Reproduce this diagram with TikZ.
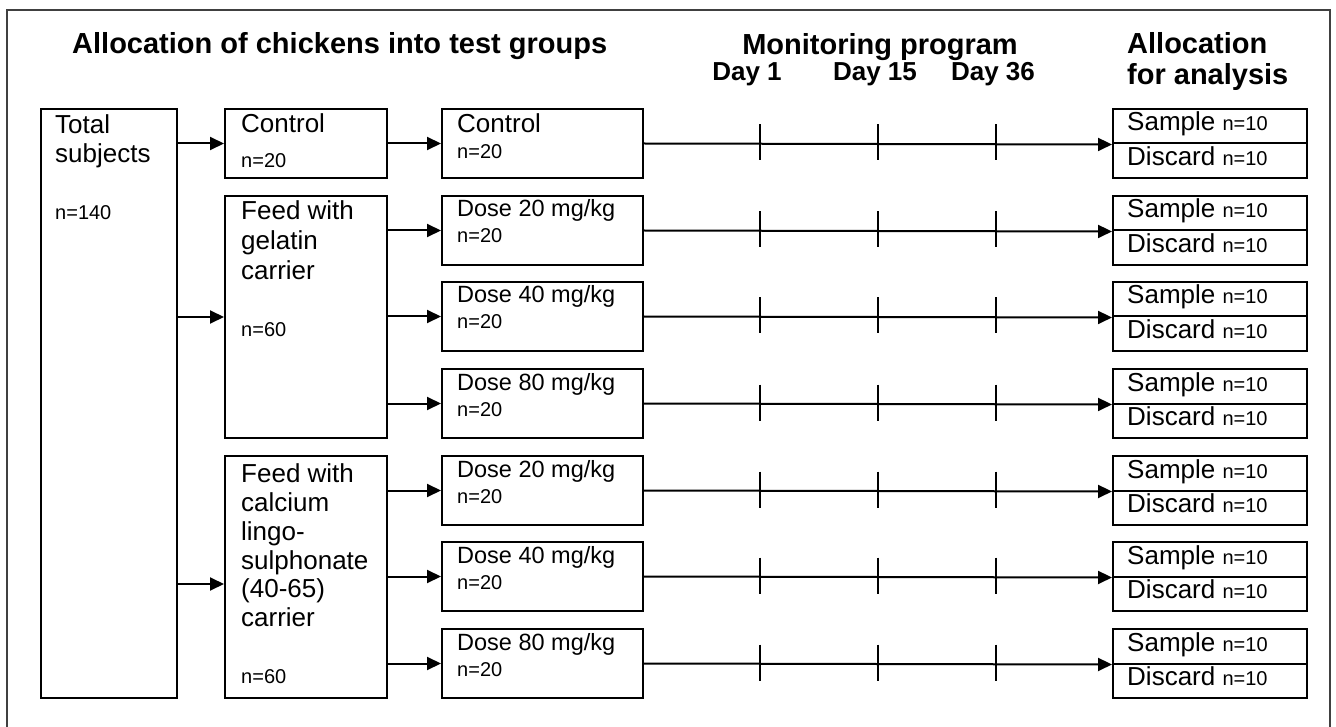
\documentclass[tikz,border=0pt]{standalone}
\usepackage{fontspec}
\setmainfont{Liberation Sans}
\usetikzlibrary{arrows.meta,calc}
\begin{document}
\begin{tikzpicture}[x=1pt,y=-1pt,
  box/.style={draw,line width=2pt,inner sep=0pt,anchor=north west},
  arr/.style={line width=2pt,-{Triangle[length=14pt,width=13pt]}},
  ln/.style={line width=2pt},
  txt/.style={anchor=base west,inner sep=0pt,font=\fontsize{26}{30}\selectfont},
  sm/.style={anchor=base west,inner sep=0pt,font=\fontsize{20}{24}\selectfont},
  ttl/.style={anchor=base west,inner sep=0pt,font=\fontsize{29}{33}\selectfont\bfseries},
  day/.style={anchor=base,inner sep=0pt,font=\fontsize{26}{30}\selectfont\bfseries},
]
\useasboundingbox (0,0) rectangle (1336,727);
\begin{scope}
  \clip (0,0) rectangle (1336,727);
  \draw[line width=1.5pt,black!75] (7,10) rectangle (1330,760);
\end{scope}

% titles
\node[ttl] (title1) at (72,54) {Allocation of chickens into test groups};
\node[ttl,anchor=base] (title2) at (880,55) {Monitoring program};
\node[day] (day1) at (747,81) {Day 1};
\node[day] (day15) at (875,81) {Day 15};
\node[day] (day36) at (993,81) {Day 36};
\node[ttl] (title3a) at (1127,54) {Allocation};
\node[ttl] (title3b) at (1127,85) {for analysis};

% column 1
\node[box,minimum width=136pt,minimum height=589pt] (total) at (40,108) {};
\node[txt] (totalA) at (55,134) {Total};
\node[txt] (totalB) at (55,163) {subjects};
\node[sm] (totalN) at (55,220) {n=140};

% column 2
\node[box,minimum width=162pt,minimum height=69pt] (control) at (224,108) {};
\node[txt] (controlA) at (241,133) {Control};
\node[sm] (controlN) at (241,168) {n=20};

\node[box,minimum width=162pt,minimum height=242pt] (gelatin) at (224,195) {};
\node[txt] (gelA) at (241,220) {Feed with};
\node[txt] (gelB) at (241,250) {gelatin};
\node[txt] (gelC) at (241,280) {carrier};
\node[sm] (gelN) at (241,337) {n=60};

\node[box,minimum width=162pt,minimum height=242pt] (calcium) at (224,455) {};
\node[txt] (calA) at (241,482) {Feed with};
\node[txt] (calB) at (241,511) {calcium};
\node[txt] (calC) at (241,540) {lingo-};
\node[txt] (calD) at (241,569) {sulphonate};
\node[txt] (calE) at (241,597) {(40-65)};
\node[txt] (calF) at (241,626) {carrier};
\node[sm] (calN) at (241,683) {n=60};

% column 3, monitoring lines and analysis boxes
\foreach \i/\t/\o/\fs/\lab in {1/108/25/26/{Control},2/195/22/23.5/{Dose 20 mg/kg},3/281/22/23.5/{Dose 40 mg/kg},4/368/22/23.5/{Dose 80 mg/kg},5/455/22/23.5/{Dose 20 mg/kg},6/541/22/23.5/{Dose 40 mg/kg},7/628/22/23.5/{Dose 80 mg/kg}}{
  \node[box,minimum width=201pt,minimum height=69pt] (c\i) at (441,\t) {};
  \node[txt,font=\fontsize{\fs}{28}\selectfont] (cA\i) at (457,\t+\o) {\lab};
  \node[sm] (cN\i) at (457,\t+\o+26) {n=20};
  \node[box,minimum width=194pt,minimum height=34.5pt] (s\i) at (1112,\t) {};
  \node[box,minimum width=194pt,minimum height=34.5pt] (d\i) at (1112,\t+34.5) {};
  \node[txt] (sT\i) at (1127,\t+23) {Sample {\fontsize{20}{24}\selectfont n=10}};
  \node[txt] (dT\i) at (1127,\t+57.5) {Discard {\fontsize{20}{24}\selectfont n=10}};
  \draw[arr] (c\i.east) -- (s\i.south west);
  \foreach \x in {760,878,996}{
    \draw[ln] (\x,\t+16.5) -- (\x,\t+52.5);
  }
}

% connectors
\draw[arr] (total.east |- control.west) -- (control.west);
\draw[arr] (total.east |- gelatin.west) -- (gelatin.west);
\draw[arr] ($(total.east |- calcium.west)+(0,7)$) -- ($(calcium.west)+(0,7)$);
\draw[arr] (control.east) -- (c1.west);
\foreach \i in {2,3,4}{\draw[arr] (gelatin.east |- c\i.west) -- (c\i.west);}
\foreach \i in {5,6,7}{\draw[arr] (calcium.east |- c\i.west) -- (c\i.west);}
\end{tikzpicture}
\end{document}
